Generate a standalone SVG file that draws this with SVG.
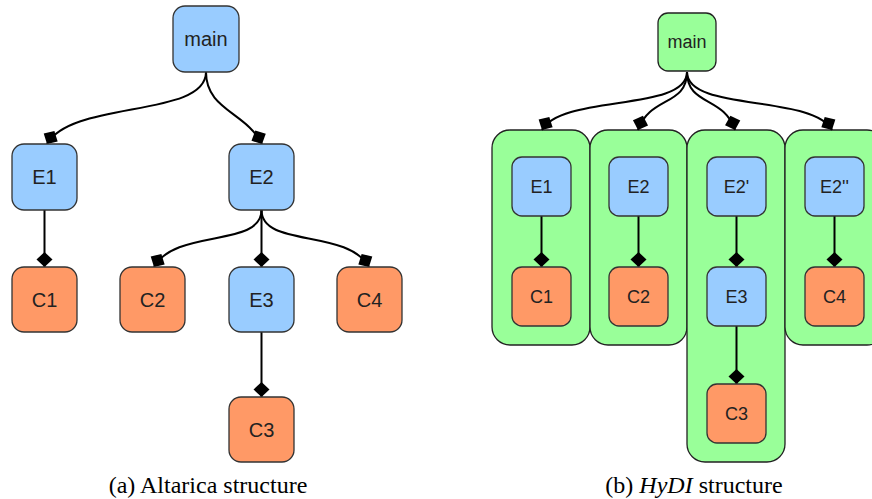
<svg xmlns="http://www.w3.org/2000/svg" width="872" height="499" viewBox="0 0 872 499">
<style>
.b{fill:#99ccff;stroke:#333;stroke-width:1.3}
.o{fill:#ff9966;stroke:#333;stroke-width:1.3}
.g{fill:#99ff99;stroke:#222;stroke-width:1.3}
.t{font-family:"Liberation Sans",Arial,sans-serif;fill:#222;text-anchor:middle;dominant-baseline:central}
.tl{font-size:20px}
.tr{font-size:18px}
.c{fill:none;stroke:#000;stroke-width:2;marker-end:url(#d)}
.cap{font-family:"Liberation Serif","Times New Roman",serif;font-size:24px;fill:#000;text-anchor:middle}
</style>
<defs>
<marker id="d" viewBox="-16 -9 17 18" refX="0" refY="0" markerWidth="17" markerHeight="18" markerUnits="userSpaceOnUse" orient="auto">
<path d="M0,0 L-7.5,-8 L-15,0 L-7.5,8 Z" fill="#000"/>
</marker>
</defs>
<g id="containers">
<rect id="cont1" class="g" x="492" y="130" width="98" height="215" rx="18"/>
<rect id="cont2" class="g" x="590" y="130" width="97" height="215" rx="18"/>
<rect id="cont3" class="g" x="687" y="130" width="98" height="332" rx="18"/>
<rect id="cont4" class="g" x="785" y="130" width="100" height="215" rx="18"/>
</g>
<g id="connectors">
<path class="c" d="M206,72 C206,118 72,100 47,144"/>
<path class="c" d="M206,72 C206,110 246,112 262,144"/>
<path class="c" d="M44.5,210 L44.5,267"/>
<path class="c" d="M261.5,210 C261.5,248 176,228 154,267"/>
<path class="c" d="M261.5,210 L261.5,267"/>
<path class="c" d="M261.5,210 C261.5,248 347,228 369,267"/>
<path class="c" d="M261.5,332 L261.5,397"/>
<path class="c" d="M687,72 C687,112 562,94 542,130"/>
<path class="c" d="M687,72 C687,106 650,96 638,130"/>
<path class="c" d="M687,72 C687,106 724,96 735,130"/>
<path class="c" d="M687,72 C687,112 812,94 832,130"/>
<path class="c" d="M541.5,216 L541.5,267"/>
<path class="c" d="M638.5,216 L638.5,267"/>
<path class="c" d="M736.5,216 L736.5,267"/>
<path class="c" d="M736.5,326 L736.5,384"/>
<path class="c" d="M834.5,216 L834.5,267"/>
</g>
<g id="a_main"><rect class="b" x="173" y="6" width="66" height="66" rx="12"/><text class="t tl" x="206" y="39">main</text></g>
<g id="a_E1"><rect class="b" x="12" y="144" width="65" height="66" rx="12"/><text class="t tl" x="44.5" y="177">E1</text></g>
<g id="a_E2"><rect class="b" x="229" y="144" width="65" height="66" rx="12"/><text class="t tl" x="261.5" y="177">E2</text></g>
<g id="a_C1"><rect class="o" x="12" y="267" width="65" height="65" rx="12"/><text class="t tl" x="44.5" y="299.5">C1</text></g>
<g id="a_C2"><rect class="o" x="120" y="267" width="65" height="65" rx="12"/><text class="t tl" x="152.5" y="299.5">C2</text></g>
<g id="a_E3"><rect class="b" x="229" y="267" width="65" height="65" rx="12"/><text class="t tl" x="261.5" y="299.5">E3</text></g>
<g id="a_C4"><rect class="o" x="337" y="267" width="65" height="65" rx="12"/><text class="t tl" x="369.5" y="299.5">C4</text></g>
<g id="a_C3"><rect class="o" x="229" y="397" width="65" height="65" rx="12"/><text class="t tl" x="261.5" y="429.5">C3</text></g>
<g id="b_main"><rect class="g" x="658" y="13" width="58" height="58" rx="10"/><text class="t tr" x="687" y="42">main</text></g>
<g id="b_E1"><rect class="b" x="512" y="157" width="59" height="59" rx="10"/><text class="t tr" x="541.5" y="186.5">E1</text></g>
<g id="b_C1"><rect class="o" x="512" y="267" width="59" height="59" rx="10"/><text class="t tr" x="541.5" y="296.5">C1</text></g>
<g id="b_E2"><rect class="b" x="609" y="157" width="59" height="59" rx="10"/><text class="t tr" x="638.5" y="186.5">E2</text></g>
<g id="b_C2"><rect class="o" x="609" y="267" width="59" height="59" rx="10"/><text class="t tr" x="638.5" y="296.5">C2</text></g>
<g id="b_E2p"><rect class="b" x="707" y="157" width="59" height="59" rx="10"/><text class="t tr" x="736.5" y="186.5">E2'</text></g>
<g id="b_E3"><rect class="b" x="707" y="267" width="59" height="59" rx="10"/><text class="t tr" x="736.5" y="296.5">E3</text></g>
<g id="b_C3"><rect class="o" x="707" y="384" width="59" height="59" rx="10"/><text class="t tr" x="736.5" y="413.5">C3</text></g>
<g id="b_E2pp"><rect class="b" x="805" y="157" width="59" height="59" rx="10"/><text class="t tr" x="834.5" y="186.5">E2''</text></g>
<g id="b_C4"><rect class="o" x="805" y="267" width="59" height="59" rx="10"/><text class="t tr" x="834.5" y="296.5">C4</text></g>
<g id="captions">
<text class="cap" x="208" y="493">(a) Altarica structure</text>
<text class="cap" x="694" y="493">(b) <tspan font-style="italic">HyDI</tspan> structure</text>
</g>
</svg>
